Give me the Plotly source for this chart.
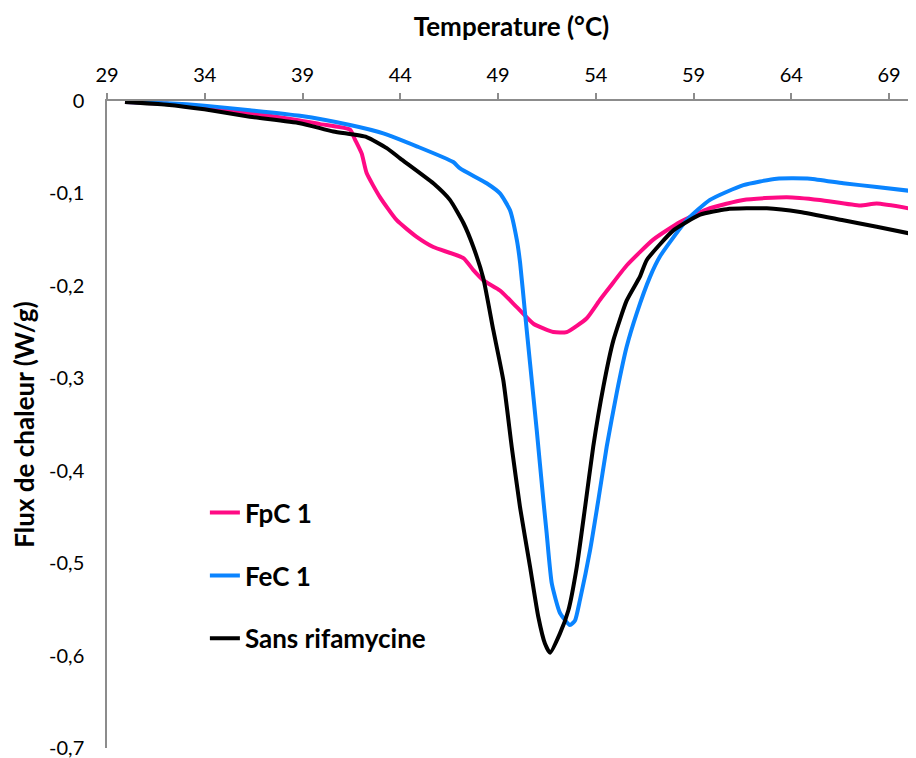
import plotly.graph_objects as go

# Temperature (°C) and heat flux (W/g)
temp_sans = [29.92, 32.05, 33.98, 36.31, 38.87, 40.58, 42.28, 43.31, 43.99, 45.69, 46.54, 47.23, 47.74,
             48.25, 48.76, 49.27, 49.70, 50.13, 50.64, 51.06, 51.40, 51.66, 52.17, 52.60, 53.03, 53.45,
             53.87, 54.39, 54.90, 55.58, 56.26, 56.61, 57.97, 59.34, 60.70, 62.75, 64.45, 66.66, 68.37, 69.99]
flux_sans = [-0.001, -0.004, -0.009, -0.017, -0.024, -0.033, -0.039, -0.051, -0.062, -0.089, -0.107, -0.132, -0.158,
             -0.192, -0.248, -0.302, -0.374, -0.440, -0.504, -0.558, -0.587, -0.597, -0.576, -0.551, -0.504, -0.440,
             -0.374, -0.309, -0.259, -0.216, -0.190, -0.172, -0.140, -0.123, -0.117, -0.116, -0.120, -0.129, -0.136, -0.143]

temp_fec = [29.92, 32.05, 33.98, 36.31, 38.87, 41.43, 43.13, 44.84, 46.71, 47.06, 48.42, 49.10, 49.61, 49.96,
            50.13, 50.38, 50.64, 50.98, 51.32, 51.49, 51.75, 52.17, 52.68, 52.94, 53.19, 53.71, 54.13, 54.56,
            55.07, 55.58, 56.09, 56.78, 57.29, 58.65, 59.84, 61.55, 63.26, 64.96, 66.66, 68.37, 69.99]
flux_fec = [-0.001, -0.0025, -0.005, -0.010, -0.016, -0.026, -0.035, -0.049, -0.066, -0.073, -0.089, -0.100, -0.118, -0.150,
            -0.175, -0.229, -0.284, -0.356, -0.432, -0.468, -0.522, -0.554, -0.567, -0.562, -0.540, -0.486, -0.432, -0.374,
            -0.316, -0.266, -0.230, -0.190, -0.168, -0.129, -0.107, -0.091, -0.084, -0.084, -0.089, -0.093, -0.097]

temp_fpc = [29.92, 32.05, 33.98, 36.31, 38.87, 39.90, 41.43, 41.69, 42.03, 42.28, 42.96, 43.82, 44.84, 45.69,
            47.23, 47.74, 48.25, 49.10, 49.96, 50.81, 51.83, 52.51, 53.54, 54.22, 54.73, 55.58, 56.94, 58.31,
            59.84, 61.55, 63.77, 65.47, 67.52, 68.37, 69.99]
flux_fpc = [-0.001, -0.003, -0.007, -0.013, -0.021, -0.025, -0.031, -0.042, -0.057, -0.078, -0.104, -0.129, -0.147, -0.158,
            -0.170, -0.183, -0.194, -0.205, -0.223, -0.241, -0.250, -0.250, -0.235, -0.215, -0.201, -0.178, -0.150, -0.131,
            -0.116, -0.107, -0.104, -0.107, -0.113, -0.111, -0.116]

x_ticks = [29, 34, 39, 44, 49, 54, 59, 64, 69]
y_ticks = [0, -0.1, -0.2, -0.3, -0.4, -0.5, -0.6, -0.7]
y_ticktext = ["0", "-0,1", "-0,2", "-0,3", "-0,4", "-0,5", "-0,6", "-0,7"]

FONT = "Lato"

fig = go.Figure()
series = [
    ("FpC 1", temp_fpc, flux_fpc, "#FF0A84"),
    ("FeC 1", temp_fec, flux_fec, "#0A84FF"),
    ("Sans rifamycine", temp_sans, flux_sans, "#000000"),
]
for i, (name, xs, ys, col) in enumerate(series):
    fig.add_trace(go.Scatter(
        x=xs, y=ys, mode="lines", name=name, legendgroup=f"g{i}",
        line=dict(color=col, width=4, shape="spline", smoothing=0.5),
    ))

# the page body adds an 8px offset, so the figure is 8px smaller than the window
fig.update_layout(
    width=908, height=750,
    margin=dict(l=99, r=0, t=93, b=10, autoexpand=False),
    paper_bgcolor="white", plot_bgcolor="white",
    font=dict(family=FONT, size=20, color="black"),
    showlegend=True,
    legend=dict(
        x=0.121, y=0.40, xanchor="left", yanchor="top",
        font=dict(family=FONT, size=26, color="black", weight="bold"),
        tracegroupgap=26, bgcolor="rgba(0,0,0,0)",
    ),
    xaxis=dict(
        side="top", range=[29, 70.38], tickvals=x_ticks, automargin=False,
        showgrid=False, zeroline=False, showline=True, linecolor="#8c8c8c", linewidth=1.5,
        ticks="outside", ticklen=6, tickcolor="#8c8c8c", tickwidth=1.5, ticklabelstandoff=3,
        tickfont=dict(family=FONT, size=20),
        title=dict(text="Temperature (°C)", font=dict(family=FONT, size=26, weight="bold"), standoff=18),
    ),
    yaxis=dict(
        range=[-0.7, 0], tickvals=y_ticks, ticktext=y_ticktext, automargin=False,
        showgrid=False, zeroline=False, showline=True, linecolor="#8c8c8c", linewidth=1.5,
        ticks="", ticklabelstandoff=17, ticklabeloverflow="allow",
        tickfont=dict(family=FONT, size=20),
        title=dict(text="Flux de chaleur (W/g)", font=dict(family=FONT, size=26, weight="bold"), standoff=8),
    ),
)

fig.write_html("out.html")
